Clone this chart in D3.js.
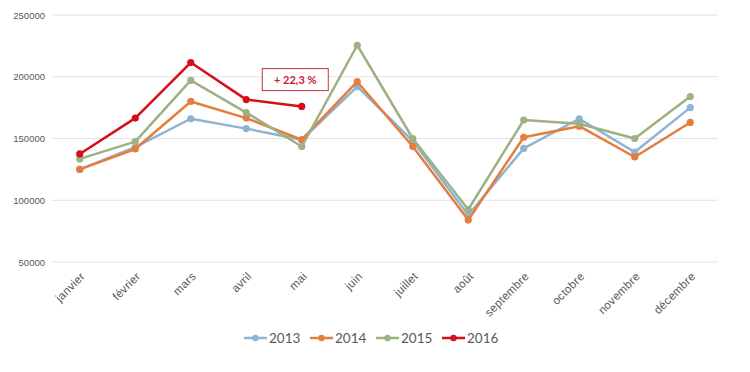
<!DOCTYPE html>
<html>
<head>
<meta charset="utf-8">
<script src="https://cdn.jsdelivr.net/npm/d3@7"></script>
<style>
  body { margin: 0; background: #fff; }
  svg { font-family: "Lato", "DejaVu Sans", sans-serif; }
</style>
</head>
<body>
<div id="chart"></div>
<script>
// Data
const months = ['janvier', 'février', 'mars', 'avril', 'mai', 'juin', 'juillet', 'août', 'septembre', 'octobre', 'novembre', 'décembre'];
const yTicks = [50000, 100000, 150000, 200000, 250000];
const years = ['2013', '2014', '2015', '2016'];
const values2013 = [125000, 143000, 166000, 158000, 149000, 192000, 148000, 88000, 142000, 166000, 139000, 175000];
const values2014 = [125000, 141500, 180000, 166500, 149000, 196000, 143500, 84000, 151000, 160000, 135000, 163000];
const values2015 = [133500, 147500, 197000, 171000, 143500, 225500, 150000, 92500, 165000, 162000, 150000, 184000];
const values2016 = [137500, 166500, 211500, 181500, 176000];
const colors = ['#8db4d3', '#e47e3d', '#9db184', '#d40f1a'];
const annotation = '+ 22,3 %';

const series = [values2013, values2014, values2015, values2016];

// Dimensions
const W = 750, H = 372;
const margin = { top: 15, right: 32, bottom: 110, left: 52 };
const width = W - margin.left - margin.right;
const height = 262 - margin.top;

const svg = d3.select('#chart')
  .append('svg')
  .attr('width', W)
  .attr('height', H);

const g = svg.append('g')
  .attr('transform', `translate(${margin.left},${margin.top})`);

// Scales
const x = d3.scaleBand()
  .domain(months)
  .range([0, width]);

const y = d3.scaleLinear()
  .domain([50000, 250000])
  .range([height, 0]);

// Gridlines
g.selectAll('.grid')
  .data(yTicks)
  .enter()
  .append('line')
  .attr('x1', 0)
  .attr('x2', width)
  .attr('y1', d => y(d))
  .attr('y2', d => y(d))
  .attr('stroke', '#e3e3e3')
  .attr('stroke-width', 1);

// Y axis
const yAxis = g.append('g')
  .call(d3.axisLeft(y).tickValues(yTicks).tickFormat(d3.format('d')).tickSize(0).tickPadding(7));
yAxis.select('.domain').remove();
yAxis.selectAll('text')
  .attr('fill', '#595959')
  .style('font-size', '9.5px');

// X axis
const xAxis = g.append('g')
  .attr('transform', `translate(0,${height})`)
  .call(d3.axisBottom(x).tickSize(0).tickPadding(0));
xAxis.select('.domain').remove();
xAxis.selectAll('text')
  .attr('fill', '#595959')
  .style('font-size', '11.5px')
  .style('letter-spacing', '0.3px')
  .attr('text-anchor', 'end')
  .attr('dy', 0)
  .attr('transform', 'translate(6,15) rotate(-45)');

// Lines
const line = d3.line()
  .x((d, i) => x(months[i]) + x.bandwidth() / 2)
  .y(d => y(d));

series.forEach((vals, k) => {
  g.append('path')
    .datum(vals)
    .attr('fill', 'none')
    .attr('stroke', colors[k])
    .attr('stroke-width', 2.5)
    .attr('stroke-linejoin', 'round')
    .attr('d', line);

  g.selectAll('.pt' + k)
    .data(vals)
    .enter()
    .append('circle')
    .attr('cx', (d, i) => x(months[i]) + x.bandwidth() / 2)
    .attr('cy', d => y(d))
    .attr('r', 3.6)
    .attr('fill', colors[k]);
});

// Annotation box
const ax = x('avril') + x.bandwidth() / 2 + 16;
const ay = y(values2016[3]) - 31;
g.append('rect')
  .attr('x', ax)
  .attr('y', ay)
  .attr('width', 66)
  .attr('height', 22)
  .attr('fill', '#fff')
  .attr('stroke', '#c0353d')
  .attr('stroke-width', 1);
g.append('text')
  .attr('x', ax + 33)
  .attr('y', ay + 15)
  .attr('text-anchor', 'middle')
  .attr('fill', '#c8202a')
  .style('font-size', '11px')
  .style('font-weight', 'bold')
  .text(annotation);

// Legend
const legend = svg.append('g')
  .attr('transform', 'translate(244,338)');
years.forEach((yr, k) => {
  const item = legend.append('g')
    .attr('transform', `translate(${k * 66},0)`);
  item.append('line')
    .attr('x1', 0).attr('x2', 23)
    .attr('y1', 0).attr('y2', 0)
    .attr('stroke', colors[k])
    .attr('stroke-width', 2.5);
  item.append('circle')
    .attr('cx', 11.5).attr('cy', 0)
    .attr('r', 3.2)
    .attr('fill', colors[k]);
  item.append('text')
    .attr('x', 25)
    .attr('y', 5)
    .attr('fill', '#595959')
    .style('font-size', '13.5px')
    .text(yr);
});
</script>
</body>
</html>
